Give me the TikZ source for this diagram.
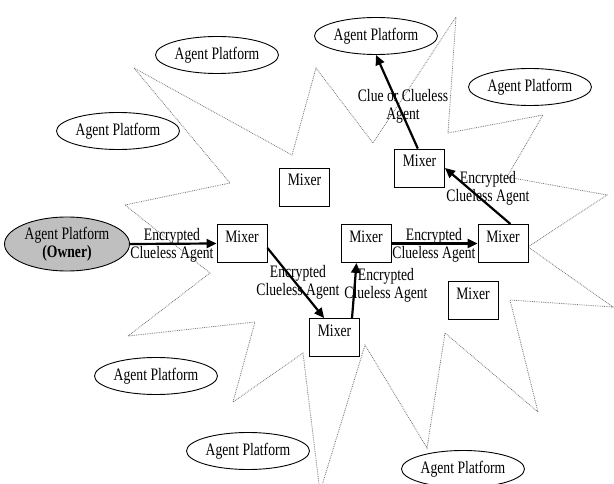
\documentclass[tikz,border=0pt]{standalone}
\usepackage{fontspec}
\setmainfont{Liberation Serif}[FakeStretch=0.78]
\usetikzlibrary{shapes.geometric,arrows.meta}
\begin{document}
\begin{tikzpicture}[x=1pt,y=-1pt,
  every node/.style={font=\fontsize{17.5}{18}\selectfont},
  plat/.style={draw,ellipse,fill=white,line width=0.9pt,minimum width=123pt,minimum height=37pt,inner sep=0pt},
  owner/.style={plat,fill=black!25,minimum width=125pt,minimum height=54pt,align=center},
  mixer/.style={draw,rectangle,fill=white,line width=0.9pt,minimum width=50pt,minimum height=38pt,inner sep=0pt,text height=12pt,text depth=14pt},
  arr/.style={line width=2.2pt,-{Triangle[length=10pt,width=9pt]}},
  lbl/.style={align=center,inner sep=0pt},
  starline/.style={draw=black!55,densely dotted,line width=0.8pt,line join=miter}
]
\useasboundingbox (0,0) rectangle (614,484);
% star outline
\draw[starline] (134,68) -- (292,155) -- (316,68) -- (373,143) -- (456,17) -- (448,133)
  -- (543,115) -- (507,177) -- (607,195) -- (528,247) -- (613,307) -- (510,300)
  -- (538,412) -- (445,333) -- (427,448) -- (365,345) -- (320,492) -- (303,353)
  -- (233,402) -- (255,322) -- (128,336) -- (210,273) -- (125,205) -- (230,183) -- cycle;
% platforms
\node[plat] (pTL) at (217,55) {Agent Platform};
\node[plat] (pL) at (118,131) {Agent Platform};
\node[plat] (pT) at (376,36) {Agent Platform};
\node[plat] (pR) at (530,87) {Agent Platform};
\node[plat] (pBL) at (156,376) {Agent Platform};
\node[plat] (pB) at (248,451) {Agent Platform};
\node[plat] (pBR) at (463,469) {Agent Platform};
\node[owner] (own) at (67,244) {Agent Platform\\\textbf{(Owner)}};
% mixers
\node[mixer] (m1) at (242,243.5) {Mixer};
\node[mixer] (mU) at (304.5,187) {Mixer};
\node[mixer] (mUR) at (419.5,168) {Mixer};
\node[mixer] (mM) at (366,243.5) {Mixer};
\node[mixer] (mR) at (503,243.5) {Mixer};
\node[mixer] (mLR) at (473,300.5) {Mixer};
\node[mixer] (mB) at (334.5,337.5) {Mixer};
% arrows
\draw[arr] (own.east) -- (m1.west);
\draw[arr] (m1.-10) -- (mB.118);
\draw[arr] (mB.48) -- (mM.-116);
\draw[arr] (mM.east) -- (mR.west);
\draw[arr] (mR.69) -- (mUR.east);
\draw[arr] (mUR.95) -- (pT.south);
% labels
\node[lbl] (l1) at (172,245) {Encrypted\\Clueless Agent};
\node[lbl] (l2) at (298,282) {Encrypted\\Clueless Agent};
\node[lbl] (l3) at (386,285) {Encrypted\\Clueless Agent};
\node[lbl] (l4) at (434,245) {Encrypted\\Clueless Agent};
\node[lbl] (l5) at (488,188) {Encrypted\\Clueless Agent};
\node[lbl] (l6) at (403,106) {Clue or Clueless\\Agent};
\end{tikzpicture}
\end{document}
